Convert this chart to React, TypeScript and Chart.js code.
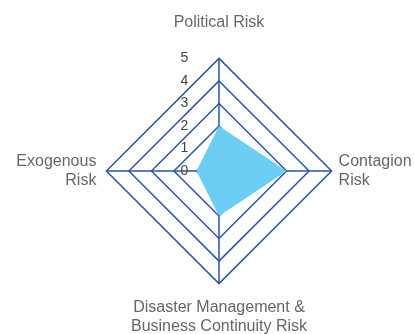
import React, { useEffect, useRef } from "react";
import { Chart, registerables } from "chart.js";

Chart.register(...registerables);

const categories: (string | string[])[] = [
  "Political Risk",
  ["Contagion", "Risk"],
  ["Disaster Management &", "Business Continuity Risk"],
  ["Exogenous", "Risk"],
];
const riskValues = [2, 3, 2, 1];
const tickLabels = [0, 1, 2, 3, 4, 5];

const tickPlugin = {
  id: "leftTicks",
  afterDraw(chart: any) {
    const scale = chart.scales.r;
    const ctx = chart.ctx;
    ctx.save();
    ctx.font = "14px 'Liberation Sans', Arial, sans-serif";
    ctx.fillStyle = "#444";
    ctx.textAlign = "center";
    ctx.textBaseline = "middle";
    tickLabels.forEach((v) => {
      const d = scale.getDistanceFromCenterForValue(v);
      ctx.fillText(String(v), scale.xCenter - 34.5, scale.yCenter - d);
    });
    ctx.restore();
  },
};

const labelPadding = [26, 7, 14, 10];

export default function App() {
  const ref = useRef<HTMLCanvasElement>(null);
  useEffect(() => {
    document.body.style.margin = "0";
    document.body.style.overflow = "hidden";
    const chart = new Chart(ref.current!, {
      type: "radar",
      data: {
        labels: categories,
        datasets: [
          {
            data: riskValues,
            backgroundColor: "#6ccdf5",
            borderColor: "#6ccdf5",
            borderWidth: 0,
            pointRadius: 0,
            fill: true,
          },
        ],
      },
      options: {
        animation: false,
        responsive: false,
        plugins: { legend: { display: false }, tooltip: { enabled: false } },
        layout: { padding: { top: 10, bottom: 0, left: 11, right: 0 } },
        scales: {
          r: {
            z: 1,
            min: 0,
            max: 5,
            ticks: { display: false, stepSize: 1 },
            grid: { color: "#2b56a3", lineWidth: 1.5 },
            angleLines: { color: "#2b56a3", lineWidth: 1.5 },
            pointLabels: {
              color: "#666",
              font: { size: 16, family: "'Liberation Sans', Arial, sans-serif", lineHeight: 1.2 },
              padding: (ctx: any) => labelPadding[ctx.index],
            },
          },
        },
      },
      plugins: [tickPlugin],
    });
    return () => chart.destroy();
  }, []);
  return (
    <div style={{ width: 414, height: 334, overflow: "hidden", position: "relative" }}>
      <canvas ref={ref} width={417} height={340} style={{ display: "block" }} />
    </div>
  );
}
